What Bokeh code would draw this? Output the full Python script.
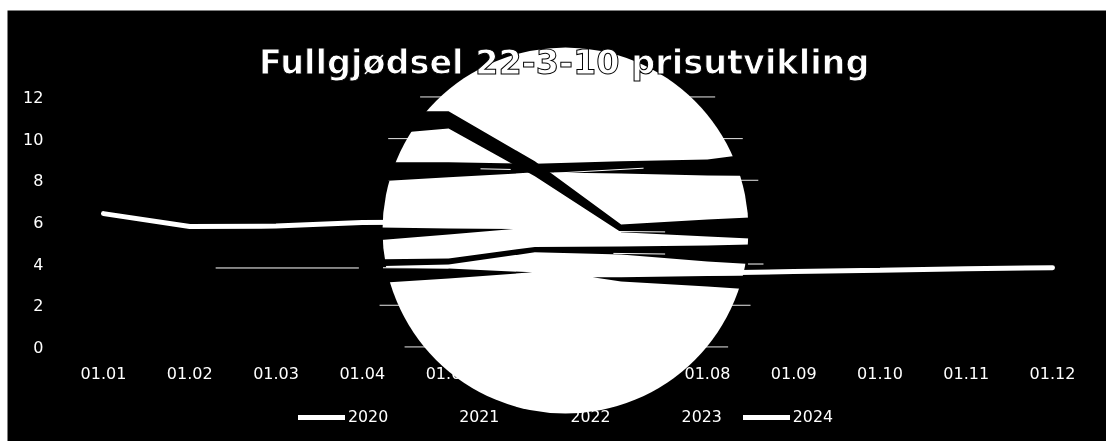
from bokeh.embed import file_html
from bokeh.resources import INLINE
from bokeh.plotting import figure
from bokeh.models import Range1d, Label, Legend, LegendItem, FixedTicker

# ---------- data ----------
month_labels = ["01.01", "01.02", "01.03", "01.04", "01.05", "01.06",
                "01.07", "01.08", "01.09", "01.10", "01.11", "01.12"]
months = list(range(1, 13))
y_ticks = [0, 2, 4, 6, 8, 10, 12]
years = ["2020", "2021", "2022", "2023", "2024"]

# white runs, visible outside the disc
line_2020_x = [1, 2, 3, 4, 5]
line_2020_y = [6.4, 5.78, 5.8, 5.97, 6.0]
line_2024_x = [8, 9, 10, 11, 12]
line_2024_y = [3.55, 3.62, 3.68, 3.75, 3.8]

# black bands, visible inside the disc
mid_x = [4, 5, 6, 7, 8, 9]
band_a_top = [11.31, 11.31, 8.91, 5.88, 6.12, 6.31]
band_a_bot = [10.13, 10.49, 8.19, 5.50, 5.30, 5.11]
band_b_top = [8.86, 8.86, 8.79, 8.91, 9.00, 9.53]
band_b_bot = [7.90, 8.14, 8.38, 8.33, 8.23, 8.19]
band_d_top = [4.20, 4.25, 4.80, 4.82, 4.87, 4.97]
band_d_bot = [3.86, 3.96, 4.54, 4.44, 4.10, 3.86]
wedge_c_x = [4, 5, 5.75]
wedge_c_top = [5.74, 5.69, 5.66]
wedge_c_bot = [5.06, 5.40, 5.66]
wedge_f_x = [4, 5, 5.97]
wedge_f_top = [3.82, 3.77, 3.58]
wedge_f_bot = [3.02, 3.29, 3.58]
wedge_g_x = [6.67, 7, 8, 9]
wedge_g_top = [3.34, 3.34, 3.41, 3.43]
wedge_g_bot = [3.34, 3.14, 2.90, 2.62]

# thin white slivers
sliver_x = [[5.37, 5.72], [6.22, 7.26], [6.96, 7.51], [6.91, 7.51], [5.64, 5.83],
            [2.30, 3.96], [4.24, 5.0], [8.47, 8.65]]
sliver_y = [[8.55, 8.52], [8.34, 8.58], [5.54, 5.52], [4.49, 4.46], [4.20, 4.20],
            [3.79, 3.79], [3.80, 3.79], [3.98, 3.98]]

# gridline fragments
grid_values = [12, 10, 8, 2, 0]
grid_from = [4.67, 4.30, 4.30, 4.20, 4.49]
grid_to = [8.09, 8.41, 8.59, 8.50, 8.24]

disc_x = [6.355]
disc_y = [5.59]
TITLE = "Fullgjødsel 22-3-10 prisutvikling"
FONT = "DejaVu Sans"
# -------------------------------------------------

W, H = 1099, 431
p = figure(width=W, height=H, output_backend="svg", toolbar_location=None,
           x_range=Range1d(-0.1128, 12.626), y_range=Range1d(-4.54, 16.15),
           min_border=0, min_border_left=0, min_border_right=0,
           min_border_top=0, min_border_bottom=0,
           background_fill_color="black", border_fill_color="black")
p.styles = {"position": "fixed", "left": "7px", "top": "10px"}
p.outline_line_color = None
p.grid.visible = False

p.xaxis.ticker = FixedTicker(ticks=months)
p.xaxis.major_label_overrides = {m: l for m, l in zip(months, month_labels)}
p.yaxis.ticker = FixedTicker(ticks=y_ticks)
p.xaxis.fixed_location = 0
p.yaxis.fixed_location = 0.5
for ax in (p.xaxis[0], p.yaxis[0]):
    ax.axis_line_color = None
    ax.major_tick_line_color = None
    ax.minor_tick_line_color = None
    ax.major_label_text_color = "white"
    ax.major_label_text_font = FONT
    ax.major_label_text_font_size = "16px"
p.xaxis.major_label_standoff = 14
p.yaxis.major_label_standoff = 11

for gv, a, b in zip(grid_values, grid_from, grid_to):
    p.line([a, b], [gv, gv], line_color="#e8e8e8", line_width=1)

p.scatter(disc_x, disc_y, size=366, marker="circle", fill_color="white", line_color=None)

p.varea(mid_x, band_a_bot, band_a_top, fill_color="black")
p.varea(mid_x, band_b_bot, band_b_top, fill_color="black")
p.varea(mid_x, band_d_bot, band_d_top, fill_color="black")
p.varea(wedge_c_x, wedge_c_bot, wedge_c_top, fill_color="black")
p.varea(wedge_f_x, wedge_f_bot, wedge_f_top, fill_color="black")
p.varea(wedge_g_x, wedge_g_bot, wedge_g_top, fill_color="black")

mean = lambda a, b: [(u + v) / 2 for u, v in zip(a, b)]
r2021 = p.line(mid_x, mean(band_d_top, band_d_bot), line_color="black", line_width=2)
r2022 = p.line(mid_x, mean(band_a_top, band_a_bot), line_color="black", line_width=2)
r2023 = p.line(mid_x, mean(band_b_top, band_b_bot), line_color="black", line_width=2)

p.multi_line(sliver_x, sliver_y, line_color="white", line_width=1)

r2020 = p.line(line_2020_x, line_2020_y, line_color="white", line_width=5, line_cap="round")
r2024 = p.line(line_2024_x, line_2024_y, line_color="white", line_width=5, line_cap="round")

legend = Legend(
    items=[LegendItem(label=y, renderers=[r]) for y, r in zip(years, [r2020, r2021, r2022, r2023, r2024])],
    orientation="horizontal", location=(291, 15), padding=0, margin=0, spacing=21,
    glyph_width=47, glyph_height=16, label_standoff=3,
    background_fill_alpha=0, border_line_color=None,
    label_text_color="white", label_text_font=FONT, label_text_font_size="15.8px")
p.add_layout(legend, "center")

p.add_layout(Label(x=6.34, y=13.66, text=TITLE, text_align="center", text_baseline="middle",
                   text_color="white", text_font=FONT, text_font_style="bold",
                   text_font_size="33.5px", text_outline_color="black"))

open("out.html", "w").write(file_html(p, INLINE))
